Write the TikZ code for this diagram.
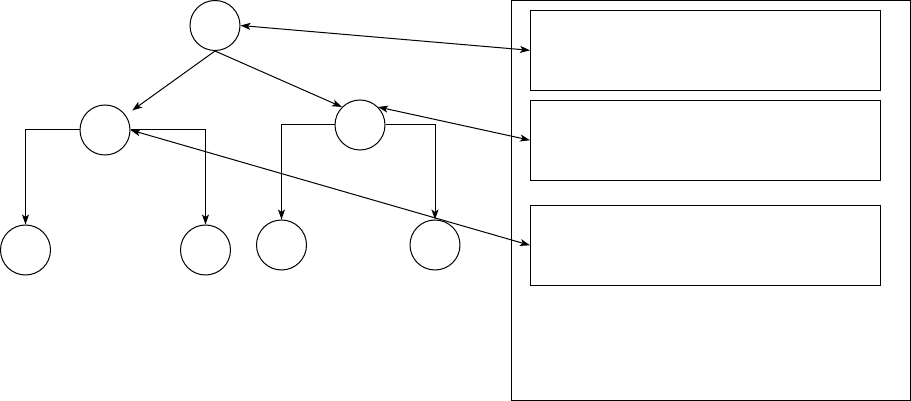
\documentclass[tikz,border=0pt]{standalone}
\usetikzlibrary{arrows.meta}
\begin{document}
\begin{tikzpicture}[x=1pt,y=-1pt,
  every path/.style={line width=1pt},
  tnode/.style={draw, circle, minimum size=50pt, inner sep=0pt, line width=1pt},
  box/.style={draw, rectangle, minimum width=350pt, minimum height=80pt, inner sep=0pt, line width=1pt},
  arr/.style={-{Stealth[length=10pt,width=7pt,inset=2.5pt]}},
  darr/.style={{Stealth[length=10pt,width=7pt,inset=2.5pt]}-{Stealth[length=10pt,width=7pt,inset=2.5pt]}}]
\useasboundingbox (0,0) rectangle (911,401);
% right panel
\node[draw, rectangle, minimum width=399.5pt, minimum height=399.5pt, inner sep=0pt, line width=1pt] (panel) at (710.75,200.25) {};
\node[box] (b1) at (705.5,50.3) {};
\node[box] (b2) at (705.5,140.2) {};
\node[box] (b3) at (705.5,245.3) {};
% tree
\node[tnode] (root) at (215,25.5) {};
\node[tnode] (lc) at (105,130) {};
\node[tnode] (rc) at (360,125) {};
\node[tnode] (l1) at (25.5,250) {};
\node[tnode] (l2) at (205.5,250) {};
\node[tnode] (l3) at (281.5,245) {};
\node[tnode] (l4) at (435,245) {};
% edges
\draw[arr, shorten >=8pt] (root.south) -- (lc);
\draw[arr] (root.south) -- (rc.north west);
\draw[arr] (lc.west) -| (l1.north);
\draw[arr] (lc.east) -| (l2.north);
\draw[arr] (rc.west) -| (l3.north);
\draw[arr] (rc.east) -| (l4.north);
\draw[darr] (root.east) -- (b1.west);
\draw[darr] (rc.north east) -- (b2.west);
\draw[darr] (lc.east) -- (b3.west);
\end{tikzpicture}
\end{document}
